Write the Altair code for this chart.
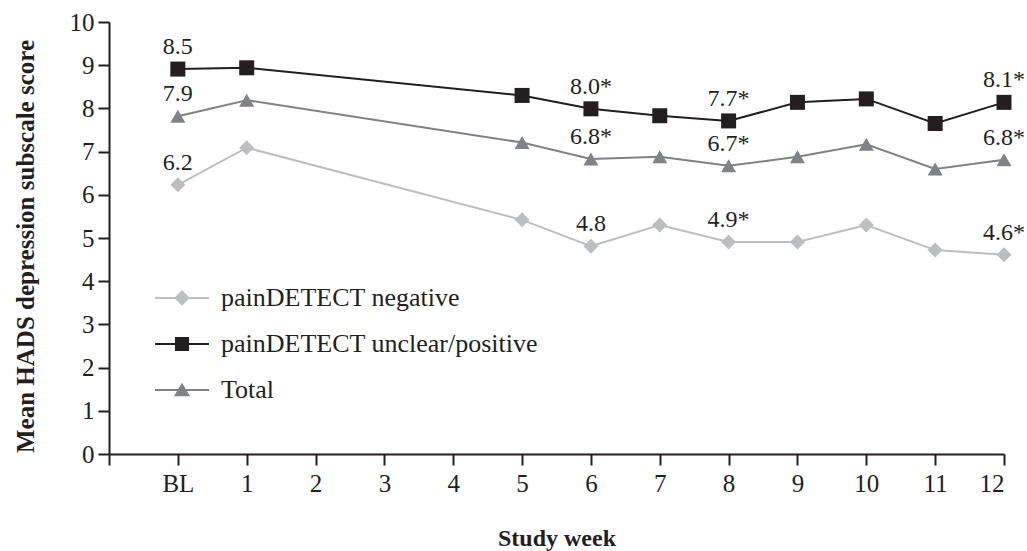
import altair as alt
import pandas as pd

# ---- data ----
weeks = [0, 1, 5, 6, 7, 8, 9, 10, 11, 12]          # 0 = BL
series_names = ["painDETECT negative", "painDETECT unclear/positive", "Total"]
neg = [6.23, 7.09, 5.42, 4.81, 5.30, 4.91, 4.91, 5.30, 4.72, 4.61]
pos = [8.91, 8.94, 8.30, 7.99, 7.83, 7.71, 8.14, 8.22, 7.65, 8.14]
tot = [7.82, 8.19, 7.21, 6.83, 6.88, 6.67, 6.88, 7.17, 6.60, 6.81]

label_weeks = [0, 6, 8, 12]
neg_labels = ["6.2", "4.8", "4.9*", "4.6*"]
pos_labels = ["8.5", "8.0*", "7.7*", "8.1*"]
tot_labels = ["7.9", "6.8*", "6.7*", "6.8*"]

tick_values = [-1, 0, 1, 2, 3, 4, 5, 6, 7, 8, 9, 10, 11, 12]

# ---- tables ----
rows = []
for name, vals in zip(series_names, [neg, pos, tot]):
    for w, v in zip(weeks, vals):
        rows.append({"series": name, "week": w, "value": v})
df = pd.DataFrame(rows)

lab_rows = []
for name, vals, labs in zip(series_names, [neg, pos, tot], [neg_labels, pos_labels, tot_labels]):
    lookup = dict(zip(weeks, vals))
    for w, t in zip(label_weeks, labs):
        lab_rows.append({"series": name, "week": w, "value": lookup[w], "text": t})
ldf = pd.DataFrame(lab_rows)

FONT = "Liberation Serif"
INK = "#231f20"
colors = ["#bcbec0", INK, "#808285"]
shapes = ["diamond", "square", "triangle-up"]

legend_paths = [
    "M-1,-0.04H1V0.04H-1Z M0,-0.29L0.29,0L0,0.29L-0.29,0Z",
    "M-1,-0.04H1V0.04H-1Z M-0.26,-0.26H0.26V0.26H-0.26Z",
    "M-1,-0.04H1V0.04H-1Z M0,-0.27L0.3,0.23H-0.3Z",
]

x_enc = alt.X(
    "week:Q",
    scale=alt.Scale(domain=[-1, 12], nice=False, zero=False),
    axis=alt.Axis(
        values=tick_values,
        labelExpr="datum.value == -1 ? '' : (datum.value == 0 ? 'BL' : datum.label)",
        title="Study week",
        titleY=91,
        titleBaseline="alphabetic",
        labelPadding=6,
        grid=False,
    ),
)
y_enc = alt.Y(
    "value:Q",
    scale=alt.Scale(domain=[0, 10], nice=False),
    axis=alt.Axis(
        values=list(range(0, 11)),
        title="Mean HADS depression subscale score",
        titleX=-84,
        titleY=224,
        titleBaseline="middle",
        titleFontSize=25,
        labelPadding=4,
        grid=False,
    ),
)
color_enc = alt.Color(
    "series:N",
    scale=alt.Scale(domain=series_names, range=colors),
    legend=None,
)

base = alt.Chart(df)

lines = base.mark_line(strokeWidth=2).encode(x=x_enc, y=y_enc, color=color_enc, detail="series:N")

points = base.mark_point(filled=True, opacity=1, size=225).encode(
    x=x_enc,
    y=y_enc,
    color=color_enc,
    shape=alt.Shape("series:N", scale=alt.Scale(domain=series_names, range=shapes), legend=None),
)

legend_props = dict(
    title=None,
    orient="none",
    legendX=46,
    legendY=249,
    symbolSize=2916,
    symbolStrokeWidth=0,
    labelFont=FONT,
    labelFontSize=26,
    labelColor=INK,
    labelOffset=12,
    labelLimit=0,
    rowPadding=6,
    padding=0,
)

legend_layer = base.transform_filter("false").mark_point(filled=True, opacity=1).encode(
    x=x_enc,
    y=y_enc,
    fill=alt.Fill(
        "series:N",
        scale=alt.Scale(domain=series_names, range=colors),
        legend=alt.Legend(**legend_props),
    ),
    shape=alt.Shape(
        "series:N",
        scale=alt.Scale(domain=series_names, range=legend_paths),
        legend=alt.Legend(**legend_props),
    ),
)

texts = alt.Chart(ldf).mark_text(
    font=FONT, fontSize=24, color=INK, align="center", baseline="middle", dy=-22
).encode(x=x_enc, y=y_enc, text="text:N")

chart = (
    alt.layer(lines, points, texts, legend_layer)
    .resolve_scale(shape="independent", fill="independent")
    .properties(
        width=895,
        height=432,
        padding={"left": 109, "top": 22, "right": 23, "bottom": 97},
        autosize=alt.AutoSizeParams(type="none"),
        background="white",
    )
    .configure_view(stroke=None)
    .configure_axis(
        labelFont=FONT,
        labelFontSize=25,
        labelColor=INK,
        titleFont=FONT,
        titleFontSize=24,
        titleFontWeight="bold",
        titleColor=INK,
        domainColor=INK,
        domainWidth=2,
        tickColor=INK,
        tickWidth=2,
        tickSize=11,
    )
)

chart.save("out.html", embed_options={"renderer": "svg", "actions": False})
